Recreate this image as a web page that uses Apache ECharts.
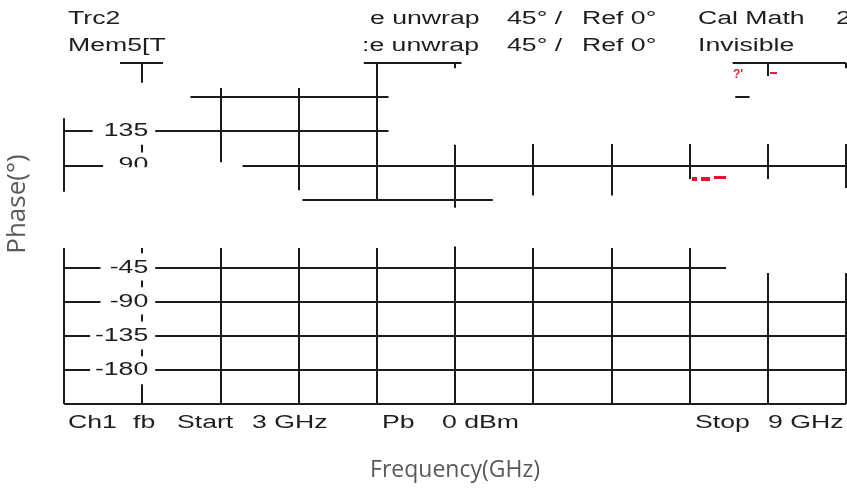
<!DOCTYPE html>
<html>
<head>
<meta charset="utf-8">
<title>Phase</title>
<script src="https://cdn.jsdelivr.net/npm/echarts@6/dist/echarts.min.js"></script>
<style>
  html, body { margin: 0; padding: 0; background: #fff; }
  #chart { width: 847px; height: 492px; }
</style>
</head>
<body>
<div id="chart"></div>
<script>
// axes: frequency in GHz, phase in degrees
const freqMin = 3;
const freqMax = 9;
const phaseMin = -225;
const phaseMax = 225;
const phaseStep = 45;

const tickValues = [135, 90, -45, -90, -135, -180];
const tickLabels = ["135", "90", "-45", "-90", "-135", "-180"];

// horizontal grid pieces that are still visible: [phase, fromGHz, toGHz]
const hLines = [
  [225, 3.43, 3.76], [225, 5.3, 6.05], [225, 8.13, 9],
  [180, 3.97, 5.49], [180, 8.15, 8.26],
  [135, 3, 3.22], [135, 3.7, 5.49],
  [90, 3, 3.3], [90, 4.37, 9],
  [45, 4.83, 6.29],
  [-45, 3, 3.28], [-45, 3.7, 8.08],
  [-90, 3, 3.28], [-90, 3.7, 9],
  [-135, 3, 3.2], [-135, 3.7, 9],
  [-180, 3, 3.2], [-180, 3.7, 9],
  [-225, 3, 9]
];

// vertical grid pieces: [GHz, fromPhase, toPhase]
const vLines = [
  [3, 152, 55], [3, -19, -225],
  [3.6, 225, 199], [3.6, 117, 107], [3.6, -19, -26], [3.6, -62, -71],
  [3.6, -107, -116], [3.6, -153, -162], [3.6, -199, -225],
  [4.2, 192, 94], [4.2, -19, -225],
  [4.8, 192, 57], [4.8, -19, -225],
  [5.4, 225, 44], [5.4, -19, -225],
  [6, 225, 218], [6, 117, 34], [6, -17, -225],
  [6.6, 118, 50], [6.6, -19, -225],
  [7.2, 118, 50], [7.2, -19, -225],
  [7.8, 118, 72], [7.8, -19, -225],
  [8.4, 225, 208], [8.4, 118, 72], [8.4, -52, -225],
  [9, 225, 218], [9, 118, 60], [9, -52, -225]
];

// instrument annotation texts [text, x, y]
const screenTexts = [
  ["Trc2", 68, 19], ["Mem5[T", 68, 46],
  ["e unwrap", 370, 19], ["45° /", 507, 19], ["Ref 0°", 582, 19],
  ["Cal Math", 698, 19], ["2", 836, 19],
  [":e unwrap", 362, 46], ["45° /", 507, 46], ["Ref 0°", 582, 46],
  ["Invisible", 698, 46],
  ["Ch1", 68, 423], ["fb", 133, 423], ["Start", 177, 423], ["3 GHz", 252, 423],
  ["Pb", 382, 423], ["0 dBm", 442, 423],
  ["Stop", 695, 423], ["9 GHz", 768, 423]
];

const chart = echarts.init(document.getElementById("chart"));

let segments = [];
hLines.forEach(h => {
  segments.push({ coords: [[h[1], h[0]], [h[2], h[0]]] });
});
vLines.forEach(v => {
  segments.push({ coords: [[v[0], v[1]], [v[0], v[2]]] });
});

const screenFont = '18px "Liberation Sans", Arial, sans-serif';
const stretch = 1.48;

let option = {
  animation: false,
  backgroundColor: "#ffffff",
  grid: {
    left: 64,
    right: 1,
    top: 63,
    bottom: 88,
    containLabel: false,
    outerBoundsMode: "none"
  },
  xAxis: {
    type: "value",
    min: freqMin,
    max: freqMax,
    show: false
  },
  yAxis: {
    type: "value",
    min: phaseMin,
    max: phaseMax,
    interval: phaseStep,
    show: false
  },
  series: [
    {
      type: "lines",
      coordinateSystem: "cartesian2d",
      polyline: false,
      silent: true,
      lineStyle: {
        color: "#1b1b1b",
        width: 2,
        opacity: 1
      },
      data: segments
    }
  ]
};
chart.setOption(option);

let graphics = [];
screenTexts.forEach(t => {
  graphics.push({
    type: "text",
    x: t[1],
    y: t[2],
    scaleX: stretch,
    silent: true,
    style: {
      text: t[0],
      font: screenFont,
      fill: "#1e1e1e",
      align: "left",
      verticalAlign: "middle"
    }
  });
});

// phase labels sit on the second vertical division
tickValues.forEach((v, i) => {
  const p = chart.convertToPixel({ gridIndex: 0 }, [3.6, v]);
  graphics.push({
    type: "text",
    x: p[0] + 6,
    y: p[1],
    scaleX: stretch,
    silent: true,
    style: {
      text: tickLabels[i],
      font: screenFont,
      fill: "#1e1e1e",
      align: "right",
      verticalAlign: "middle"
    }
  });
});

// the "90" label is half erased in the screenshot
const p90 = chart.convertToPixel({ gridIndex: 0 }, [3.6, 90]);
graphics.push({
  type: "rect",
  z: 200,
  silent: true,
  shape: { x: p90[0] - 36, y: p90[1] + 2, width: 44, height: 14 },
  style: { fill: "#ffffff" }
});

// leftover red marker bits
graphics.push(
  {
    type: "text", x: 733, y: 75, silent: true,
    style: { text: "?'", font: 'bold 12px "Liberation Sans"', fill: "#e0203a", verticalAlign: "middle" }
  },
  { type: "rect", silent: true, shape: { x: 770, y: 72, width: 7, height: 2 }, style: { fill: "#e0203a" } },
  { type: "rect", silent: true, shape: { x: 692, y: 177, width: 5, height: 4 }, style: { fill: "#e8102a" } },
  { type: "rect", silent: true, shape: { x: 701, y: 177, width: 9, height: 4 }, style: { fill: "#e8102a" } },
  { type: "rect", silent: true, shape: { x: 714, y: 176, width: 12, height: 3 }, style: { fill: "#e8102a" } }
);

// axis titles, centred on the plot like in the original layout
const xMid = chart.convertToPixel({ gridIndex: 0 }, [(freqMin + freqMax) / 2, phaseMin]);
graphics.push(
  {
    type: "text",
    x: xMid[0],
    y: 470,
    silent: true,
    style: {
      text: "Frequency(GHz)",
      font: '23px "Open Sans"',
      fill: "#595959",
      align: "center",
      verticalAlign: "middle"
    }
  },
  {
    type: "text",
    x: 18,
    y: 204,
    rotation: Math.PI / 2,
    silent: true,
    style: {
      text: "Phase(°)",
      font: '26px "Open Sans"',
      fill: "#595959",
      align: "center",
      verticalAlign: "middle"
    }
  }
);

chart.setOption({ graphic: graphics });
</script>
</body>
</html>
